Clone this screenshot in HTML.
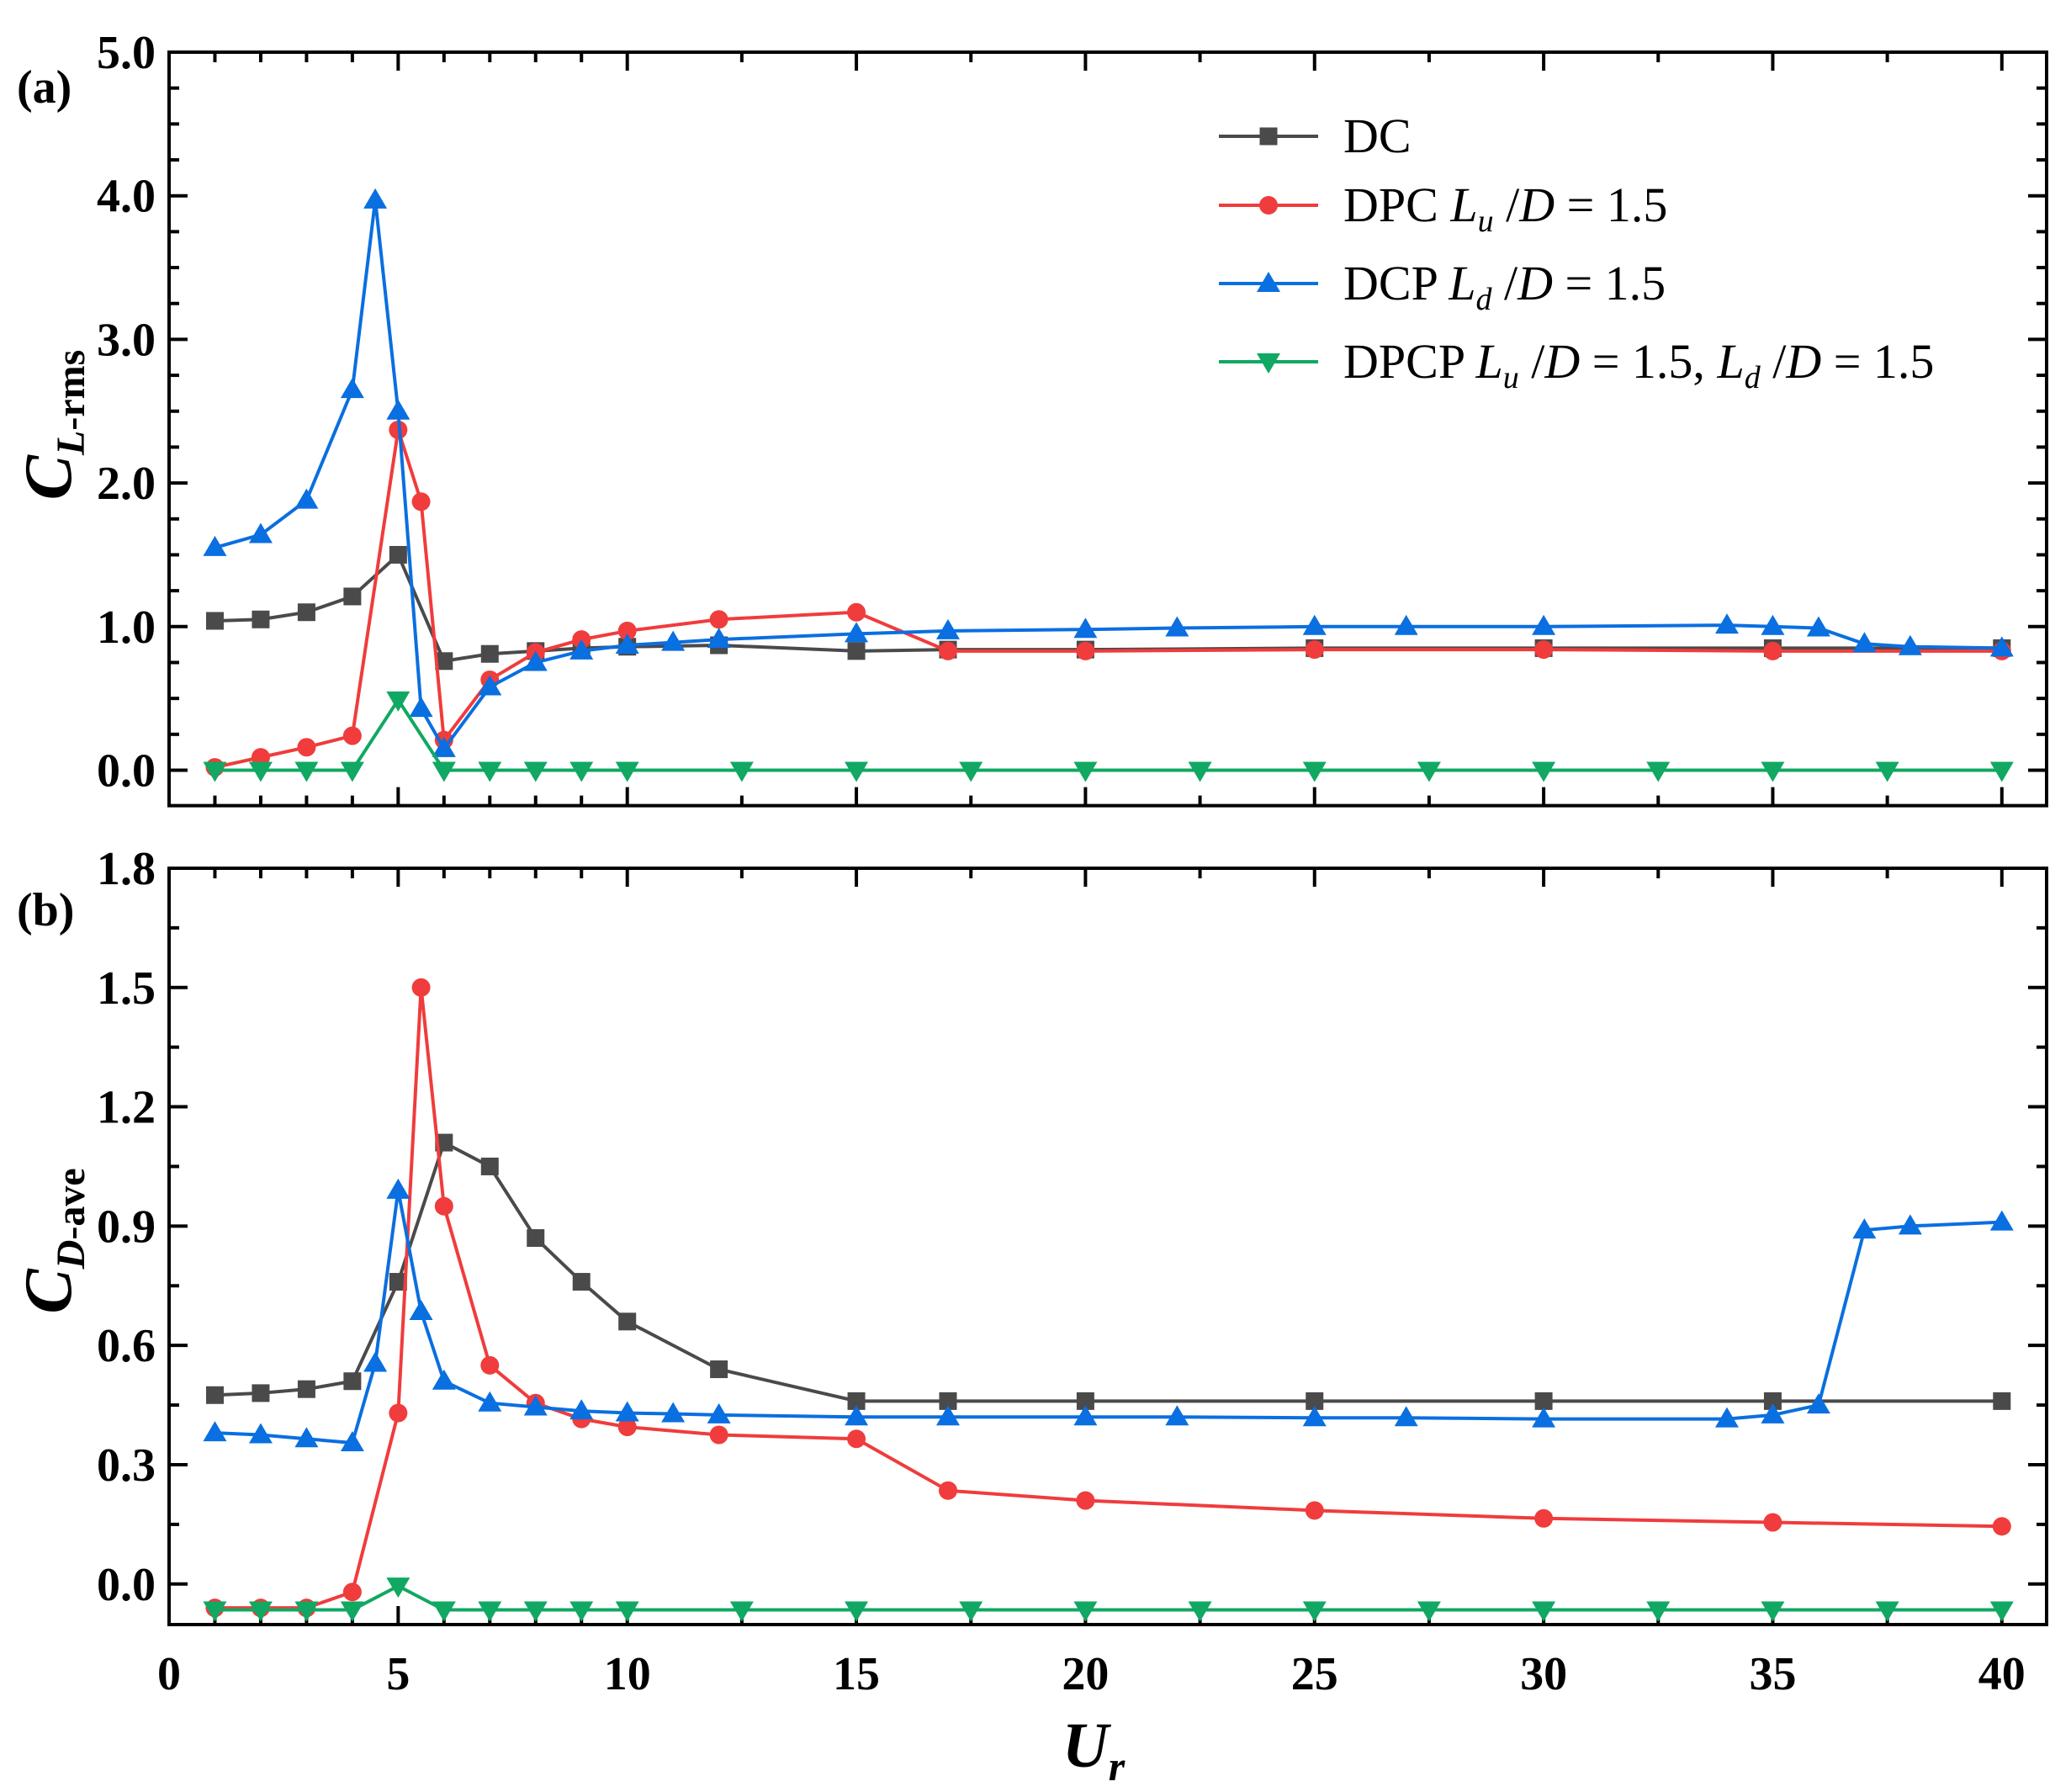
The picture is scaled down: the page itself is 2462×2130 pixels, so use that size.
<!DOCTYPE html>
<html><head><meta charset="utf-8"><style>html,body{margin:0;padding:0;background:#fff}svg{display:block}</style></head>
<body>
<svg id="s" width="2462" height="2130" xmlns="http://www.w3.org/2000/svg" font-family="Liberation Serif, serif"></svg>
<script>
const S=document.getElementById('s');let h='';
const X=u=>201+54.47*u;
const A={top:62,bot:957.6,y0:915.5,k:170.7};
const B={top:1032,bot:1931,y0:1882.8,k:472.7};
const YA=v=>A.y0-A.k*v, YB=v=>B.y0-B.k*v;
const L=201,R=2433;
function axes(P,majors,minors,fmt,Yf,lab){
 h+=`<rect x="${L}" y="${P.top}" width="${R-L}" height="${P.bot-P.top}" fill="none" stroke="#000" stroke-width="4"/>`;
 for(const v of majors){const y=Yf(v);h+=`<line x1="${L}" x2="${L+22}" y1="${y}" y2="${y}" stroke="#000" stroke-width="4"/><line x1="${R}" x2="${R-22}" y1="${y}" y2="${y}" stroke="#000" stroke-width="4"/><text x="${L-16}" y="${y+19}" text-anchor="end" font-size="56" font-weight="bold">${v.toFixed(fmt)}</text>`;}
 for(const v of minors){const y=Yf(v);h+=`<line x1="${L}" x2="${L+12}" y1="${y}" y2="${y}" stroke="#000" stroke-width="4"/><line x1="${R}" x2="${R-12}" y1="${y}" y2="${y}" stroke="#000" stroke-width="4"/>`;}
 const xm=[0,5,10,15,20,25,30,35,40], xn=[1,2,3,4,6,7,8,9,12.5,17.5,22.5,27.5,32.5,37.5];
 for(const u of xm){const x=X(u);h+=`<line x1="${x}" x2="${x}" y1="${P.bot}" y2="${P.bot-22}" stroke="#000" stroke-width="4"/><line x1="${x}" x2="${x}" y1="${P.top}" y2="${P.top+22}" stroke="#000" stroke-width="4"/>`;}
 for(const u of xn){const x=X(u);h+=`<line x1="${x}" x2="${x}" y1="${P.bot}" y2="${P.bot-12}" stroke="#000" stroke-width="4"/><line x1="${x}" x2="${x}" y1="${P.top}" y2="${P.top+12}" stroke="#000" stroke-width="4"/>`;}
}
const col={dc:'#4a4a4a',dpc:'#f03c3c',dcp:'#0a6fe0',dpcp:'#10a862'};
function mk(t,x,y,c){
 if(t=='s')return `<rect x="${x-10.5}" y="${y-10.5}" width="21" height="21" fill="${c}"/>`;
 if(t=='c')return `<circle cx="${x}" cy="${y}" r="11" fill="${c}"/>`;
 if(t=='u')return `<polygon points="${x-14},${y+10} ${x+14},${y+10} ${x},${y-14}" fill="${c}"/>`;
 return `<polygon points="${x-14},${y-10} ${x+14},${y-10} ${x},${y+14}" fill="${c}"/>`;
}
function ser(d,Yf,c,t){
 h+=`<polyline points="${d.map(p=>X(p[0])+','+Yf(p[1])).join(' ')}" fill="none" stroke="${c}" stroke-width="4"/>`;
 for(const p of d)h+=mk(t,X(p[0]),Yf(p[1]),c);
}
axes(A,[0,1,2,3,4,5],[0.25,0.5,0.75,1.25,1.5,1.75,2.25,2.5,2.75,3.25,3.5,3.75,4.25,4.5,4.75],1,YA);
axes(B,[0,0.3,0.6,0.9,1.2,1.5,1.8],[0.15,0.45,0.75,1.05,1.35,1.65],1,YB);
ser([[1,1.04],[2,1.05],[3,1.1],[4,1.21],[5,1.5],[6,0.76],[7,0.81],[8,0.83],[9,0.85],[10,0.86],[12,0.87],[15,0.83],[17,0.84],[20,0.84],[25,0.85],[30,0.85],[35,0.85],[40,0.85]],YA,col.dc,'s');
ser([[1,0.02],[2,0.09],[3,0.16],[4,0.24],[5,2.37],[5.5,1.87],[6,0.21],[7,0.63],[8,0.82],[9,0.91],[10,0.97],[12,1.05],[15,1.10],[17,0.83],[20,0.83],[25,0.84],[30,0.84],[35,0.83],[40,0.83]],YA,col.dpc,'c');
ser([[1,1.55],[2,1.64],[3,1.88],[4,2.65],[4.5,3.97],[5,2.5],[5.5,0.43],[6,0.15],[7,0.58],[8,0.75],[9,0.83],[10,0.87],[11,0.89],[12,0.91],[15,0.95],[17,0.97],[20,0.98],[22,0.99],[25,1.0],[27,1.0],[30,1.0],[34,1.01],[35,1.0],[36,0.99],[37,0.88],[38,0.86],[40,0.85]],YA,col.dcp,'u');
ser([1,2,3,4,5,6,7,8,9,10,12.5,15,17.5,20,22.5,25,27.5,30,32.5,35,37.5,40].map(u=>[u,u==5?0.49:0]),YA,col.dpcp,'d');
ser([[1,0.475],[2,0.48],[3,0.49],[4,0.51],[5,0.76],[6,1.11],[7,1.05],[8,0.87],[9,0.76],[10,0.66],[12,0.54],[15,0.46],[17,0.46],[20,0.46],[25,0.46],[30,0.46],[35,0.46],[40,0.46]],YB,col.dc,'s');
ser([[1,-0.06],[2,-0.06],[3,-0.06],[4,-0.02],[5,0.43],[5.5,1.5],[6,0.95],[7,0.55],[8,0.455],[9,0.415],[10,0.395],[12,0.375],[15,0.365],[17,0.235],[20,0.21],[25,0.185],[30,0.165],[35,0.155],[40,0.145]],YB,col.dpc,'c');
ser([[1,0.38],[2,0.375],[3,0.365],[4,0.355],[4.5,0.555],[5,0.99],[5.5,0.685],[6,0.51],[7,0.455],[8,0.445],[9,0.435],[10,0.43],[11,0.428],[12,0.425],[15,0.42],[17,0.42],[20,0.42],[22,0.42],[25,0.418],[27,0.418],[30,0.415],[34,0.415],[35,0.425],[36,0.45],[37,0.89],[38,0.90],[40,0.91]],YB,col.dcp,'u');
ser([1,2,3,4,5,6,7,8,9,10,12.5,15,17.5,20,22.5,25,27.5,30,32.5,35,37.5,40].map(u=>[u,u==5?-0.005:-0.065]),YB,col.dpcp,'d');
for(const u of [0,5,10,15,20,25,30,35,40])h+=`<text x="${X(u)}" y="2008" text-anchor="middle" font-size="56" font-weight="bold">${u}</text>`;
h+=`<text x="1300" y="2100" text-anchor="middle" font-size="76" font-weight="bold" font-style="italic">U<tspan font-size="50" dy="16">r</tspan></text>`;
h+=`<text x="20" y="122" font-size="56" font-weight="bold">(a)</text><text x="20" y="1100" font-size="56" font-weight="bold">(b)</text>`;
h+=`<text transform="translate(84,505) rotate(-90)" text-anchor="middle" font-size="80" font-weight="bold" font-style="italic">C<tspan font-size="48" dy="16">L</tspan><tspan font-size="48" font-style="normal">-rms</tspan></text>`;
h+=`<text transform="translate(84,1475) rotate(-90)" text-anchor="middle" font-size="80" font-weight="bold" font-style="italic">C<tspan font-size="48" dy="16">D</tspan><tspan font-size="48" font-style="normal">-ave</tspan></text>`;
const lg=[['dc','s','DC'],['dpc','c','DPC <tspan font-style="italic">L</tspan><tspan font-style="italic" font-size="38" dy="12">u</tspan><tspan dy="-12"> /</tspan><tspan font-style="italic">D</tspan> = 1.5'],['dcp','u','DCP <tspan font-style="italic">L</tspan><tspan font-style="italic" font-size="38" dy="12">d</tspan><tspan dy="-12"> /</tspan><tspan font-style="italic">D</tspan> = 1.5'],['dpcp','d','DPCP <tspan font-style="italic">L</tspan><tspan font-style="italic" font-size="38" dy="12">u</tspan><tspan dy="-12"> /</tspan><tspan font-style="italic">D</tspan> = 1.5, <tspan font-style="italic">L</tspan><tspan font-style="italic" font-size="38" dy="12">d</tspan><tspan dy="-12"> /</tspan><tspan font-style="italic">D</tspan> = 1.5']];
const ly=[162,244,337,430];
lg.forEach((l,i)=>{const y=ly[i];h+=`<line x1="1449" x2="1567" y1="${y}" y2="${y}" stroke="${col[l[0]]}" stroke-width="4"/>`+mk(l[1],1508,y,col[l[0]])+`<text x="1597" y="${y+19}" font-size="58">${l[2]}</text>`;});
S.innerHTML=h;
</script>
</body></html>
